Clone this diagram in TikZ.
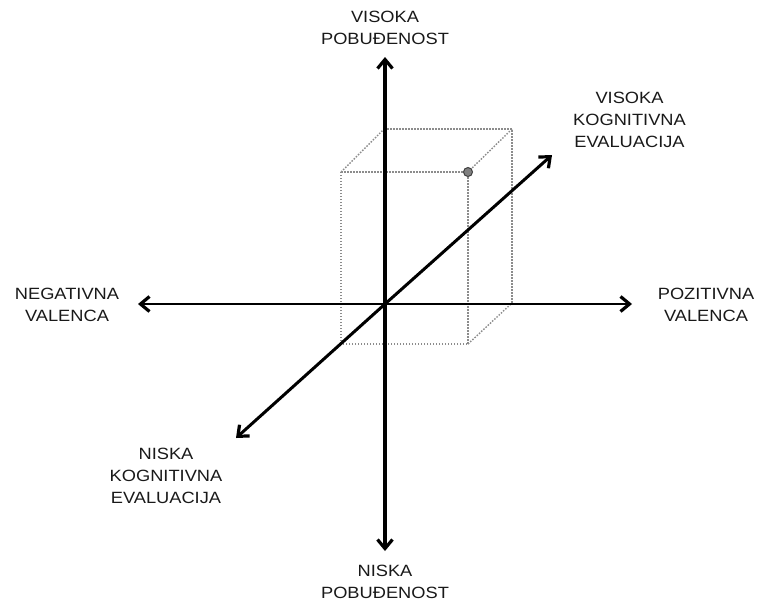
\documentclass[tikz,border=0pt]{standalone}
\usepackage{fontspec}
\setmainfont[FakeStretch=1.12]{Liberation Sans}
\usetikzlibrary{arrows.meta}
\begin{document}
\begin{tikzpicture}[x=1pt,y=-1pt,
  axis/.style={line width=3.2pt,-{Straight Barb[length=9pt,width=15pt,line width=3.2pt]}},
  boxline/.style={black!45,line width=1.4pt,dash pattern=on 1.5pt off 1.5pt},
  lbl/.style={inner sep=0pt,align=center,font=\fontsize{16.3pt}{22pt}\selectfont,text=black!90},
  pt/.style={circle,draw=black!75,fill=gray,line width=1pt,minimum size=9pt,inner sep=0pt}
]
\useasboundingbox (0,0) rectangle (759,606);
% coordinates
\coordinate (O) at (385,304);
\coordinate (Ntop) at (385,57);
\coordinate (Nbot) at (385,551);
\coordinate (Nleft) at (138,304);
\coordinate (Nright) at (632,304);
\coordinate (Dup) at (552,155);
\coordinate (Ddown) at (236,438);
% box corners (front face)
\coordinate (F1) at (341,172);
\coordinate (F2) at (468,172);
\coordinate (F3) at (468,344);
\coordinate (F4) at (341,344);
% back face
\coordinate (B1) at (384,129);
\coordinate (B2) at (512,129);
\coordinate (B3) at (512,303);
% dotted box
\draw[boxline] (F1) -- (F2) -- (F3) -- (F4) -- cycle;
\draw[boxline] (B1) -- (B2) -- (B3);
\draw[boxline] (F1) -- (B1);
\draw[boxline] (F2) -- (B2);
\draw[boxline] (F3) -- (B3);
% axes
\draw[axis] (O) -- (Ntop);
\draw[axis] (O) -- (Nbot);
\draw[axis,line width=2.8pt] (O) -- (Nleft);
\draw[axis,line width=2.8pt] (O) -- (Nright);
\draw[axis,line width=3pt] (O) -- (Dup);
\draw[axis,line width=3pt] (O) -- (Ddown);
% point
\node[pt] (P) at (F2) {};
% labels
\node[lbl] (tTop) at (385,28) {VISOKA\\POBUĐENOST};
\node[lbl] (tBot) at (385,581.5) {NISKA\\POBUĐENOST};
\node[lbl] (tLeft) at (67,305) {NEGATIVNA\\VALENCA};
\node[lbl] (tRight) at (706,305) {POZITIVNA\\VALENCA};
\node[lbl] (tUp) at (629.5,120) {VISOKA\\KOGNITIVNA\\EVALUACIJA};
\node[lbl] (tDown) at (166,476) {NISKA\\KOGNITIVNA\\EVALUACIJA};
\end{tikzpicture}
\end{document}
